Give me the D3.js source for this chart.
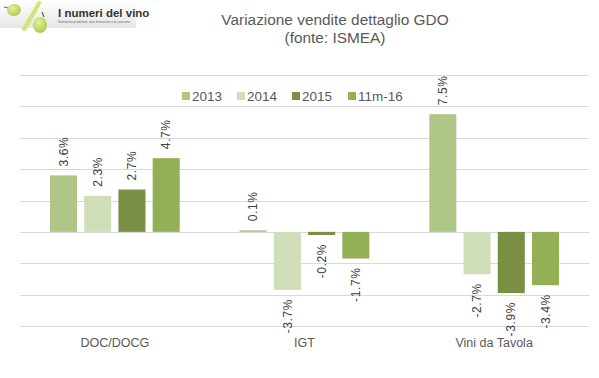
<!DOCTYPE html>
<html>
<head>
<meta charset="utf-8">
<script src="https://cdn.jsdelivr.net/npm/d3@7"></script>
<style>
  html, body { margin: 0; padding: 0; background: #fff; }
  svg { display: block; }
</style>
</head>
<body>
<svg id="chart" width="599" height="378"></svg>
<script>
const categories = ["DOC/DOCG", "IGT", "Vini da Tavola"];
const seriesNames = ["2013", "2014", "2015", "11m-16"];
const values2013 = [3.6, 0.1, 7.5];
const values2014 = [2.3, -3.7, -2.7];
const values2015 = [2.7, -0.2, -3.9];
const values11m16 = [4.7, -1.7, -3.4];
const seriesColors = ["#aec686", "#d0ddb9", "#7a8f43", "#94b056"];
const yTicks = [-6, -4, -2, 0, 2, 4, 6, 8, 10];
const titleLines = ["Variazione vendite dettaglio GDO", "(fonte: ISMEA)"];

const seriesValues = [values2013, values2014, values2015, values11m16];

(function () {
const svg = d3.select("#chart");
const plotLeft = 20, plotRight = 589, plotTop = 75, plotBottom = 326;

const x0 = d3.scaleBand().domain(categories).range([plotLeft, plotRight]).padding(0);
const x1 = d3.scaleBand().domain(seriesNames).range([0, x0.bandwidth()])
  .paddingInner(0.21).paddingOuter(0.875);
const y = d3.scaleLinear().domain([-6, 10]).range([plotBottom, plotTop]);

// logo
const defs = svg.append("defs");
const lg = defs.append("linearGradient").attr("id", "logoBg").attr("x1", 0).attr("y1", 0).attr("x2", 0).attr("y2", 1);
lg.append("stop").attr("offset", "0%").attr("stop-color", "#ffffff");
lg.append("stop").attr("offset", "100%").attr("stop-color", "#e6e6e6");
const rg = defs.append("radialGradient").attr("id", "grape").attr("cx", 0.4).attr("cy", 0.35).attr("r", 0.7);
rg.append("stop").attr("offset", "0%").attr("stop-color", "#e4f0a0");
rg.append("stop").attr("offset", "100%").attr("stop-color", "#a9c94a");
const logo = svg.append("g");
logo.append("rect").attr("x", 0).attr("y", 0).attr("width", 136).attr("height", 28).attr("fill", "url(#logoBg)");
logo.append("path").attr("d", "M4,7 L9,8").attr("stroke", "#8a6a3a").attr("stroke-width", 1.2);
logo.append("ellipse").attr("cx", 14).attr("cy", 10).attr("rx", 7).attr("ry", 6).attr("fill", "url(#grape)");
logo.append("path").attr("d", "M21,30 L38,1 L42,2 L26,31 Z").attr("fill", "#d4e47a");
logo.append("path").attr("d", "M42,12 L44,17").attr("stroke", "#7a5a2a").attr("stroke-width", 1.2);
logo.append("ellipse").attr("cx", 40).attr("cy", 25).attr("rx", 7).attr("ry", 8).attr("fill", "url(#grape)");
logo.append("text").attr("x", 58).attr("y", 17).attr("font-family", "Liberation Sans, Arial, sans-serif")
  .attr("font-size", 11.5).attr("font-weight", "bold").attr("fill", "#333").text("I numeri del vino");
logo.append("text").attr("x", 58).attr("y", 23).attr("font-family", "Liberation Sans, Arial, sans-serif")
  .attr("font-size", 3.2).attr("fill", "#666").text("Statistiche produttive, dati di mercato e di consumo.");

// title
svg.append("g").selectAll("text").data(titleLines).join("text")
  .attr("x", 335).attr("y", (d, i) => 25 + i * 18)
  .attr("text-anchor", "middle")
  .attr("font-family", "Liberation Sans Narrow, Arial Narrow, sans-serif")
  .attr("font-size", 15.4).attr("fill", "#595959").text(d => d);

// gridlines
svg.append("g").selectAll("line").data(yTicks).join("line")
  .attr("x1", plotLeft).attr("x2", plotRight)
  .attr("y1", d => Math.round(y(d)) + 0.5).attr("y2", d => Math.round(y(d)) + 0.5)
  .attr("stroke", "#d9d9d9").attr("stroke-width", 1);

// bars
const barData = [];
categories.forEach((c, ci) => {
  seriesNames.forEach((s, si) => {
    barData.push({ cat: c, ser: s, si, v: seriesValues[si][ci] });
  });
});
svg.append("g").selectAll("rect").data(barData).join("rect")
  .attr("x", d => x0(d.cat) + x1(d.ser))
  .attr("width", x1.bandwidth())
  .attr("y", d => y(Math.max(0, d.v)))
  .attr("height", d => Math.abs(y(d.v) - y(0)))
  .attr("fill", d => seriesColors[d.si]);

// data labels
svg.append("g").selectAll("text").data(barData).join("text")
  .attr("transform", d => {
    const cx = x0(d.cat) + x1(d.ser) + x1.bandwidth() / 2;
    const yy = d.v >= 0 ? y(d.v) - 9 : y(d.v) + 9;
    return `translate(${cx},${yy}) rotate(-90)`;
  })
  .attr("text-anchor", d => d.v >= 0 ? "start" : "end")
  .attr("dy", "0.35em")
  .attr("font-family", "Liberation Sans, Arial, sans-serif")
  .attr("font-size", 12).attr("letter-spacing", 0.6).attr("fill", "#404040")
  .text(d => d.v.toFixed(1) + "%");

// category labels
svg.append("g").selectAll("text").data(categories).join("text")
  .attr("x", d => x0(d) + x0.bandwidth() / 2)
  .attr("y", 347)
  .attr("text-anchor", "middle")
  .attr("font-family", "Liberation Sans Narrow, Arial Narrow, sans-serif")
  .attr("font-size", 12.5).attr("fill", "#595959").text(d => d);

// legend
const legendX = [182, 237, 292, 348];
const leg = svg.append("g").selectAll("g").data(seriesNames).join("g")
  .attr("transform", (d, i) => `translate(${legendX[i]},96)`);
leg.append("rect").attr("x", 0).attr("y", -4).attr("width", 8).attr("height", 8)
  .attr("fill", (d, i) => seriesColors[i]);
leg.append("text").attr("x", 10).attr("dy", "0.36em")
  .attr("font-family", "Liberation Sans, Arial, sans-serif")
  .attr("font-size", 13.5).attr("fill", "#595959").text(d => d);
})();
</script>
</body>
</html>
